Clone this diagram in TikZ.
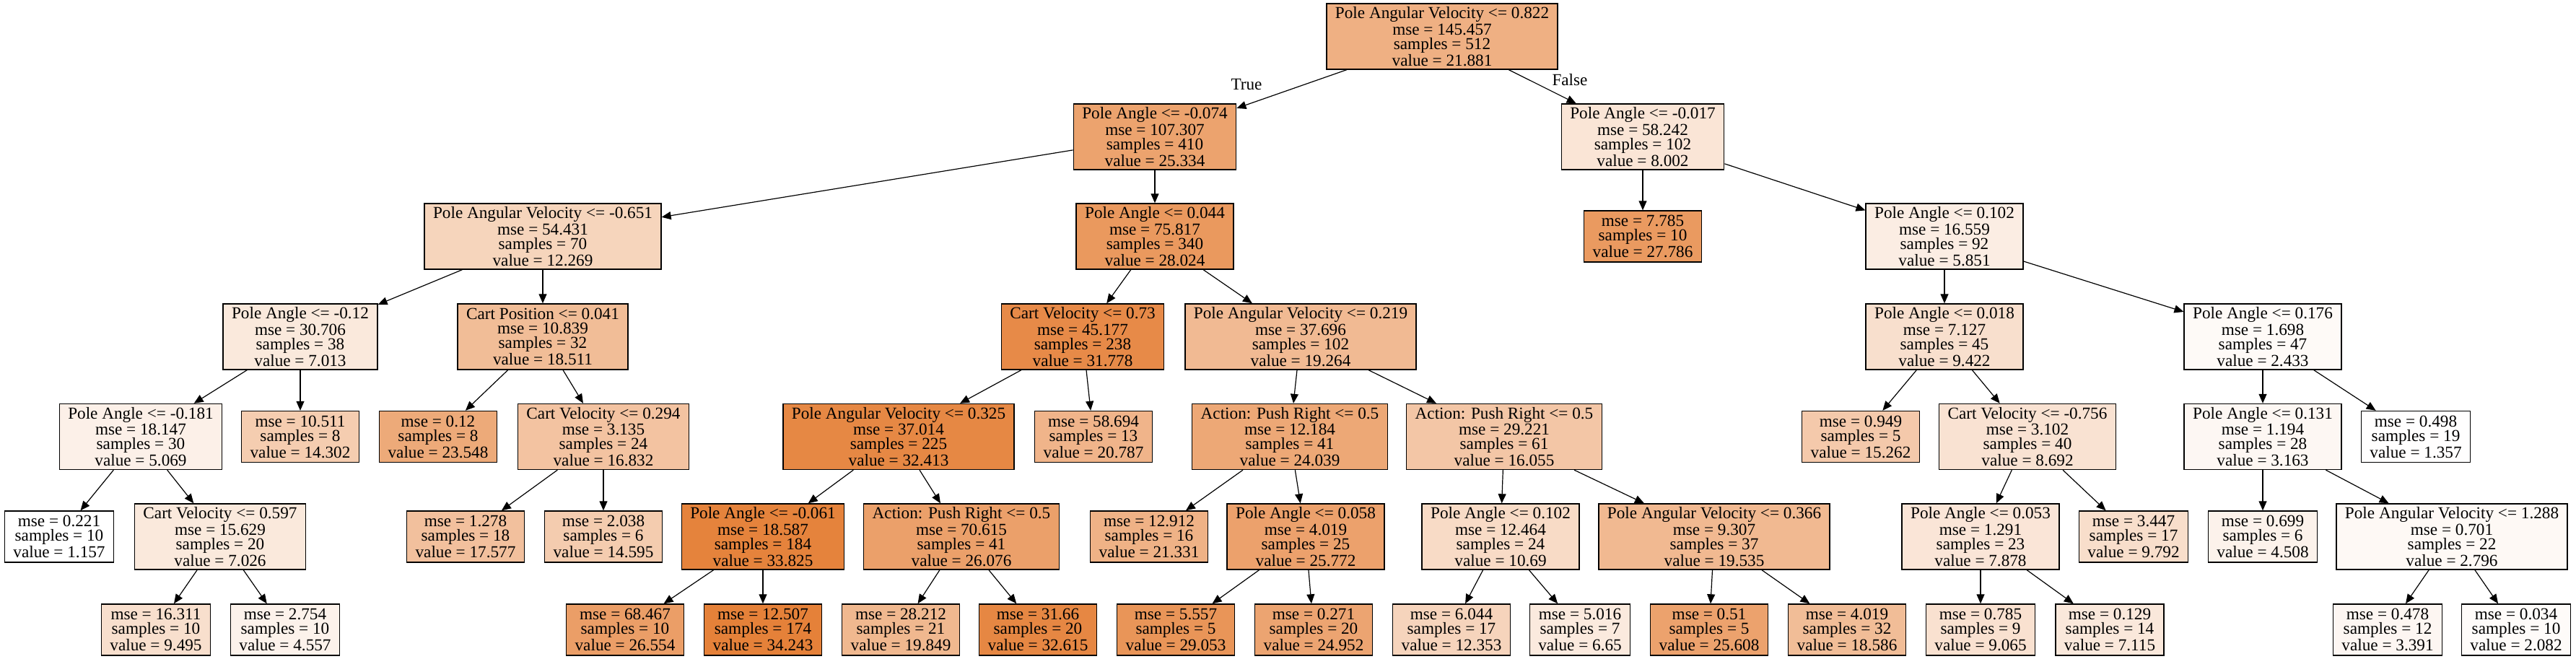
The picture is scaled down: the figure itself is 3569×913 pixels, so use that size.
\documentclass[tikz,border=0pt]{standalone}
\usepackage{fontspec}
\setmainfont{Liberation Serif}
\usepackage{tikz}
\usetikzlibrary{shapes, arrows.meta, positioning}
\definecolor{treeorange}{RGB}{229,129,57}
\tikzset{testbox/.style={draw, rectangle, align=center, line width=0.7pt, minimum height=45.5pt, inner xsep=6pt, inner ysep=0pt},
         leafbox/.style={testbox, minimum height=35.5pt},
         branch/.style={->, line width=0.6pt}}

\begin{document}
\begin{tikzpicture}[x=0.5pt, y=-0.5pt, >={Triangle[length=6.5pt,width=5.5pt]}, font=\fontsize{11.6}{10}\selectfont]
        \useasboundingbox (0,0) rectangle (3569,913);
        % root and first split
        \node[testbox, fill=treeorange!62.6] (n0) at (1998,50.5) {Pole Angular Velocity <= 0.822\\mse = 145.457\\samples = 512\\value = 21.881};
        \node[testbox, fill=treeorange!73.1] (n1) at (1600,189.5) {Pole Angle <= -0.074\\mse = 107.307\\samples = 410\\value = 25.334};
        \node[testbox, fill=treeorange!20.7] (n2) at (2276,189.5) {Pole Angle <= -0.017\\mse = 58.242\\samples = 102\\value = 8.002};
        \node (yes) at (1727,117) {True};
        \node (no) at (2175,111) {False};
        % depth 2
        \node[testbox, fill=treeorange!33.6] (n3) at (752,327.5) {Pole Angular Velocity <= -0.651\\mse = 54.431\\samples = 70\\value = 12.269};
        \node[testbox, fill=treeorange!81.2] (n4) at (1600,327.5) {Pole Angle <= 0.044\\mse = 75.817\\samples = 340\\value = 28.024};
        \node[leafbox, fill=treeorange!80.5] (n5) at (2276,327.5) {mse = 7.785\\samples = 10\\value = 27.786};
        \node[testbox, fill=treeorange!14.2] (n6) at (2694,327.5) {Pole Angle <= 0.102\\mse = 16.559\\samples = 92\\value = 5.851};
        % depth 3
        \node[testbox, fill=treeorange!17.7] (n7) at (416,466.5) {Pole Angle <= -0.12\\mse = 30.706\\samples = 38\\value = 7.013};
        \node[testbox, fill=treeorange!52.5] (n8) at (752,466.5) {Cart Position <= 0.041\\mse = 10.839\\samples = 32\\value = 18.511};
        \node[testbox, fill=treeorange!92.5] (n9) at (1500,466.5) {Cart Velocity <= 0.73\\mse = 45.177\\samples = 238\\value = 31.778};
        \node[testbox, fill=treeorange!54.7] (n10) at (1802,466.5) {Pole Angular Velocity <= 0.219\\mse = 37.696\\samples = 102\\value = 19.264};
        \node[testbox, fill=treeorange!25.0] (n11) at (2694,466.5) {Pole Angle <= 0.018\\mse = 7.127\\samples = 45\\value = 9.422};
        \node[testbox, fill=treeorange!3.9] (n12) at (3135,466.5) {Pole Angle <= 0.176\\mse = 1.698\\samples = 47\\value = 2.433};
        % depth 4
        \node[testbox, fill=treeorange!11.8] (n13) at (195,605) {Pole Angle <= -0.181\\mse = 18.147\\samples = 30\\value = 5.069};
        \node[leafbox, fill=treeorange!39.7] (n14) at (416,605) {mse = 10.511\\samples = 8\\value = 14.302};
        \node[leafbox, fill=treeorange!67.7] (n15) at (607,605) {mse = 0.12\\samples = 8\\value = 23.548};
        \node[testbox, fill=treeorange!47.4] (n16) at (836,605) {Cart Velocity <= 0.294\\mse = 3.135\\samples = 24\\value = 16.832};
        \node[testbox, fill=treeorange!94.5] (n17) at (1245,605) {Pole Angular Velocity <= 0.325\\mse = 37.014\\samples = 225\\value = 32.413};
        \node[leafbox, fill=treeorange!59.3] (n18) at (1515,605) {mse = 58.694\\samples = 13\\value = 20.787};
        \node[testbox, fill=treeorange!69.2] (n19) at (1787,605) {Action: Push Right <= 0.5\\mse = 12.184\\samples = 41\\value = 24.039};
        \node[testbox, fill=treeorange!45.0] (n20) at (2084,605) {Action: Push Right <= 0.5\\mse = 29.221\\samples = 61\\value = 16.055};
        \node[leafbox, fill=treeorange!42.6] (n21) at (2578,605) {mse = 0.949\\samples = 5\\value = 15.262};
        \node[testbox, fill=treeorange!22.8] (n22) at (2809,605) {Cart Velocity <= -0.756\\mse = 3.102\\samples = 40\\value = 8.692};
        \node[testbox, fill=treeorange!6.1] (n23) at (3135,605) {Pole Angle <= 0.131\\mse = 1.194\\samples = 28\\value = 3.163};
        \node[leafbox, fill=treeorange!0.6] (n24) at (3347,605) {mse = 0.498\\samples = 19\\value = 1.357};
        % depth 5
        \node[leafbox, fill=white] (n25) at (82,743.5) {mse = 0.221\\samples = 10\\value = 1.157};
        \node[testbox, fill=treeorange!17.7] (n26) at (305,743.5) {Cart Velocity <= 0.597\\mse = 15.629\\samples = 20\\value = 7.026};
        \node[leafbox, fill=treeorange!49.6] (n27) at (645,743.5) {mse = 1.278\\samples = 18\\value = 17.577};
        \node[leafbox, fill=treeorange!40.6] (n28) at (836,743.5) {mse = 2.038\\samples = 6\\value = 14.595};
        \node[testbox, fill=treeorange!98.7] (n29) at (1057,743.5) {Pole Angle <= -0.061\\mse = 18.587\\samples = 184\\value = 33.825};
        \node[testbox, fill=treeorange!75.3] (n30) at (1332,743.5) {Action: Push Right <= 0.5\\mse = 70.615\\samples = 41\\value = 26.076};
        \node[leafbox, fill=treeorange!61.0] (n31) at (1592,743.5) {mse = 12.912\\samples = 16\\value = 21.331};
        \node[testbox, fill=treeorange!74.4] (n32) at (1809,743.5) {Pole Angle <= 0.058\\mse = 4.019\\samples = 25\\value = 25.772};
        \node[testbox, fill=treeorange!28.8] (n33) at (2079,743.5) {Pole Angle <= 0.102\\mse = 12.464\\samples = 24\\value = 10.69};
        \node[testbox, fill=treeorange!55.5] (n34) at (2375,743.5) {Pole Angular Velocity <= 0.366\\mse = 9.307\\samples = 37\\value = 19.535};
        \node[testbox, fill=treeorange!20.3] (n35) at (2744,743.5) {Pole Angle <= 0.053\\mse = 1.291\\samples = 23\\value = 7.878};
        \node[leafbox, fill=treeorange!26.1] (n36) at (2956,743.5) {mse = 3.447\\samples = 17\\value = 9.792};
        \node[leafbox, fill=treeorange!10.1] (n37) at (3135,743.5) {mse = 0.699\\samples = 6\\value = 4.508};
        \node[testbox, fill=treeorange!5.0] (n38) at (3397,743.5) {Pole Angular Velocity <= 1.288\\mse = 0.701\\samples = 22\\value = 2.796};
        % depth 6
        \node[leafbox, fill=treeorange!25.2] (n39) at (216,872.5) {mse = 16.311\\samples = 10\\value = 9.495};
        \node[leafbox, fill=treeorange!10.3] (n40) at (395,872.5) {mse = 2.754\\samples = 10\\value = 4.557};
        \node[leafbox, fill=treeorange!76.8] (n41) at (866,872.5) {mse = 68.467\\samples = 10\\value = 26.554};
        \node[leafbox, fill=treeorange!100] (n42) at (1057,872.5) {mse = 12.507\\samples = 174\\value = 34.243};
        \node[leafbox, fill=treeorange!56.5] (n43) at (1248,872.5) {mse = 28.212\\samples = 21\\value = 19.849};
        \node[leafbox, fill=treeorange!95.1] (n44) at (1438,872.5) {mse = 31.66\\samples = 20\\value = 32.615};
        \node[leafbox, fill=treeorange!84.3] (n45) at (1629,872.5) {mse = 5.557\\samples = 5\\value = 29.053};
        \node[leafbox, fill=treeorange!71.9] (n46) at (1820,872.5) {mse = 0.271\\samples = 20\\value = 24.952};
        \node[leafbox, fill=treeorange!33.8] (n47) at (2011,872.5) {mse = 6.044\\samples = 17\\value = 12.353};
        \node[leafbox, fill=treeorange!16.6] (n48) at (2189,872.5) {mse = 5.016\\samples = 7\\value = 6.65};
        \node[leafbox, fill=treeorange!73.9] (n49) at (2368,872.5) {mse = 0.51\\samples = 5\\value = 25.608};
        \node[leafbox, fill=treeorange!52.7] (n50) at (2559,872.5) {mse = 4.019\\samples = 32\\value = 18.586};
        \node[leafbox, fill=treeorange!23.9] (n51) at (2744,872.5) {mse = 0.785\\samples = 9\\value = 9.065};
        \node[leafbox, fill=treeorange!18.0] (n52) at (2923,872.5) {mse = 0.129\\samples = 14\\value = 7.115};
        \node[leafbox, fill=treeorange!6.8] (n53) at (3308,872.5) {mse = 0.478\\samples = 12\\value = 3.391};
        \node[leafbox, fill=treeorange!2.8] (n54) at (3486,872.5) {mse = 0.034\\samples = 10\\value = 2.082};

        \draw[branch] (n0) -- (n1);
        \draw[branch] (n0) -- (n2);
        \draw[branch] (n1) -- (n3);
        \draw[branch] (n1) -- (n4);
        \draw[branch] (n2) -- (n5);
        \draw[branch] (n2) -- (n6);
        \draw[branch] (n3) -- (n7);
        \draw[branch] (n3) -- (n8);
        \draw[branch] (n4) -- (n9);
        \draw[branch] (n4) -- (n10);
        \draw[branch] (n6) -- (n11);
        \draw[branch] (n6) -- (n12);
        \draw[branch] (n7) -- (n13);
        \draw[branch] (n7) -- (n14);
        \draw[branch] (n8) -- (n15);
        \draw[branch] (n8) -- (n16);
        \draw[branch] (n9) -- (n17);
        \draw[branch] (n9) -- (n18);
        \draw[branch] (n10) -- (n19);
        \draw[branch] (n10) -- (n20);
        \draw[branch] (n11) -- (n21);
        \draw[branch] (n11) -- (n22);
        \draw[branch] (n12) -- (n23);
        \draw[branch] (n12) -- (n24);
        \draw[branch] (n13) -- (n25);
        \draw[branch] (n13) -- (n26);
        \draw[branch] (n16) -- (n27);
        \draw[branch] (n16) -- (n28);
        \draw[branch] (n17) -- (n29);
        \draw[branch] (n17) -- (n30);
        \draw[branch] (n19) -- (n31);
        \draw[branch] (n19) -- (n32);
        \draw[branch] (n20) -- (n33);
        \draw[branch] (n20) -- (n34);
        \draw[branch] (n22) -- (n35);
        \draw[branch] (n22) -- (n36);
        \draw[branch] (n23) -- (n37);
        \draw[branch] (n23) -- (n38);
        \draw[branch] (n26) -- (n39);
        \draw[branch] (n26) -- (n40);
        \draw[branch] (n29) -- (n41);
        \draw[branch] (n29) -- (n42);
        \draw[branch] (n30) -- (n43);
        \draw[branch] (n30) -- (n44);
        \draw[branch] (n32) -- (n45);
        \draw[branch] (n32) -- (n46);
        \draw[branch] (n33) -- (n47);
        \draw[branch] (n33) -- (n48);
        \draw[branch] (n34) -- (n49);
        \draw[branch] (n34) -- (n50);
        \draw[branch] (n35) -- (n51);
        \draw[branch] (n35) -- (n52);
        \draw[branch] (n38) -- (n53);
        \draw[branch] (n38) -- (n54);
    \end{tikzpicture}
\end{document}
